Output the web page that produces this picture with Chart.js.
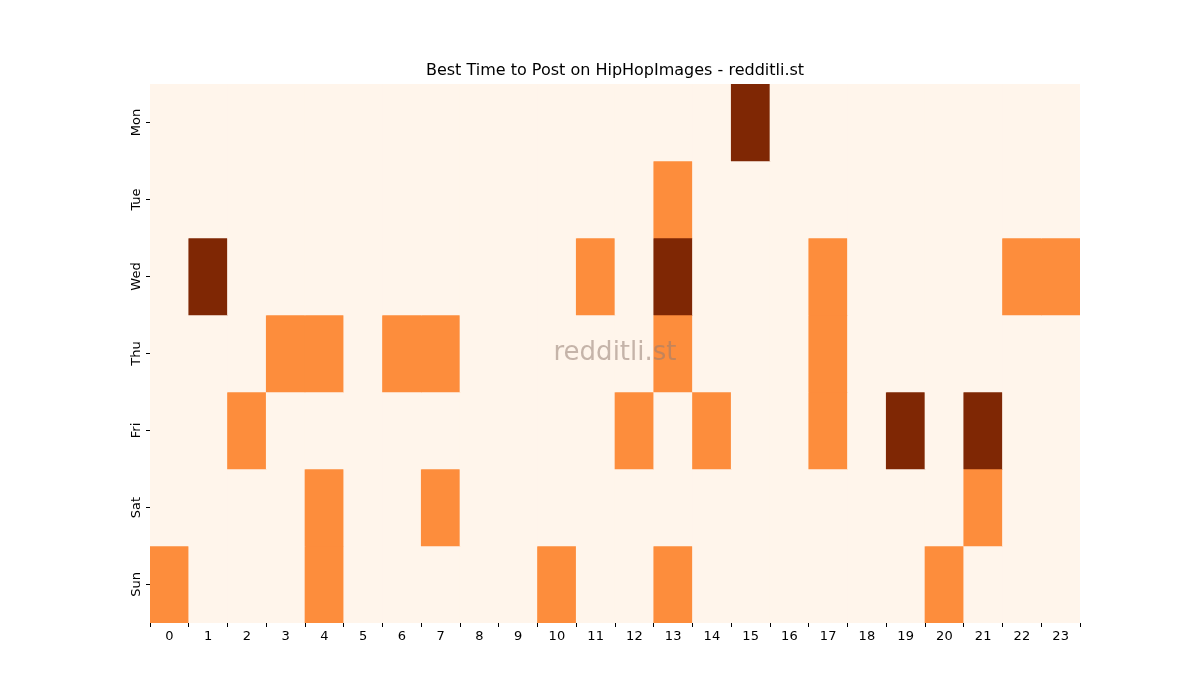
<!DOCTYPE html>
<html><head><meta charset="utf-8">
<script src="https://cdn.jsdelivr.net/npm/chart.js@4"></script>
<style>html,body{margin:0;padding:0;background:#fff}#c{display:block}</style>
</head><body>
<div style="width:1200px;height:700px"><canvas id="c" width="1200" height="700"></canvas></div>
<script>
const hours = Array.from({length:24},(_,i)=>String(i));
const days = ["Mon","Tue","Wed","Thu","Fri","Sat","Sun"];
const mon = [0,0,0,0,0,0,0,0,0,0,0,0,0,0,0,2,0,0,0,0,0,0,0,0];
const tue = [0,0,0,0,0,0,0,0,0,0,0,0,0,1,0,0,0,0,0,0,0,0,0,0];
const wed = [0,2,0,0,0,0,0,0,0,0,0,1,0,2,0,0,0,1,0,0,0,0,1,1];
const thu = [0,0,0,1,1,0,1,1,0,0,0,0,0,1,0,0,0,1,0,0,0,0,0,0];
const fri = [0,0,1,0,0,0,0,0,0,0,0,0,1,0,1,0,0,1,0,2,0,2,0,0];
const sat = [0,0,0,0,1,0,0,1,0,0,0,0,0,0,0,0,0,0,0,0,0,1,0,0];
const sun = [1,0,0,0,1,0,0,0,0,0,1,0,0,1,0,0,0,0,0,0,1,0,0,0];
const grid = [mon,tue,wed,thu,fri,sat,sun];
const palette = ["#fff5eb","#fd8d3c","#7f2704"];

const datasets = grid.map((row,d)=>({
  label: days[d],
  data: row.map(()=>[d-0.5,d+0.5]),
  backgroundColor: row.map(v=>palette[v]),
  borderWidth:0, barPercentage:1, categoryPercentage:1, grouped:false
}));

const overlay = {
  id:'overlay',
  afterDraw(chart){
    const ctx=chart.ctx, y=chart.scales.y, a=chart.chartArea;
    ctx.save();
    ctx.fillStyle='#000';
    ctx.font='16px "DejaVu Sans"';
    ctx.textAlign='center'; ctx.textBaseline='bottom';
    ctx.fillText('Best Time to Post on HipHopImages - redditli.st',(a.left+a.right)/2,a.top-5);
    ctx.font='13px "DejaVu Sans"';
    ctx.strokeStyle='#000'; ctx.lineWidth=1;
    days.forEach((d,i)=>{
      const py=y.getPixelForValue(i);
      ctx.beginPath(); ctx.moveTo(a.left-4,py); ctx.lineTo(a.left,py); ctx.stroke();
      ctx.save(); ctx.translate(a.left-13,py); ctx.rotate(-Math.PI/2);
      ctx.textAlign='center'; ctx.textBaseline='middle'; ctx.fillText(d,0,0); ctx.restore();
    });
    ctx.font='26px "DejaVu Sans"';
    ctx.fillStyle='rgba(150,125,115,0.55)';
    ctx.textAlign='center'; ctx.textBaseline='middle';
    ctx.fillText('redditli.st',(a.left+a.right)/2,(a.top+a.bottom)/2);
    ctx.restore();
  }
};

new Chart(document.getElementById('c'),{
  type:'bar',
  data:{labels:hours,datasets},
  options:{
    responsive:false, animation:false,
    layout:{padding:{left:150,right:120,top:84,bottom:0}},
    plugins:{legend:{display:false},tooltip:{enabled:false},title:{display:false}},
    scales:{
      x:{grid:{drawOnChartArea:false,tickLength:4,color:'#000'},border:{display:false},
         ticks:{color:'#000',font:{family:'DejaVu Sans',size:13},maxRotation:0,padding:2},
         afterFit:s=>{s.height=77;}},
      y:{type:'linear',reverse:true,min:-0.5,max:6.5,display:true,
         grid:{display:false},border:{display:false},ticks:{display:false},
         afterFit:s=>{s.width=0;}}
    }
  },
  plugins:[overlay]
});
</script>
</body></html>
